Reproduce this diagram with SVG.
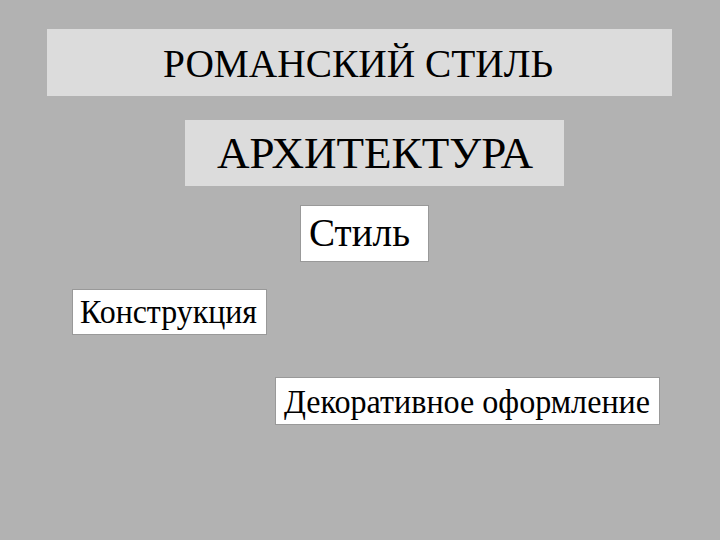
<svg xmlns="http://www.w3.org/2000/svg" width="720" height="540" viewBox="0 0 720 540">
<style>
.t{font-family:'Liberation Serif','Times New Roman','DejaVu Serif',serif;fill:#000}
.g{fill:#dcdcdc}
.w{fill:#fff;stroke:#999;stroke-width:1}
</style>
<rect width="720" height="540" fill="#b2b2b2"/>
<g id="title"><rect class="g" x="47" y="29" width="625" height="67"/><text class="t" x="163" y="77" font-size="39" textLength="390" lengthAdjust="spacingAndGlyphs">РОМАНСКИЙ СТИЛЬ</text></g>
<g id="arch"><rect class="g" x="185" y="120" width="379" height="66"/><text class="t" x="217" y="168" font-size="45" textLength="316" lengthAdjust="spacingAndGlyphs">АРХИТЕКТУРА</text></g>
<g id="style"><rect class="w" x="300.5" y="205.5" width="128" height="56"/><text class="t" x="309" y="246" font-size="40" textLength="101" lengthAdjust="spacingAndGlyphs">Стиль</text></g>
<g id="constr"><rect class="w" x="72.5" y="289.5" width="194" height="45"/><text class="t" x="80" y="323" font-size="33" textLength="177" lengthAdjust="spacingAndGlyphs">Конструкция</text></g>
<g id="decor"><rect class="w" x="275.5" y="377.5" width="384" height="47"/><text class="t" x="284" y="413" font-size="33" textLength="366" lengthAdjust="spacingAndGlyphs">Декоративное оформление</text></g>
<g id="connectors"></g>
</svg>
